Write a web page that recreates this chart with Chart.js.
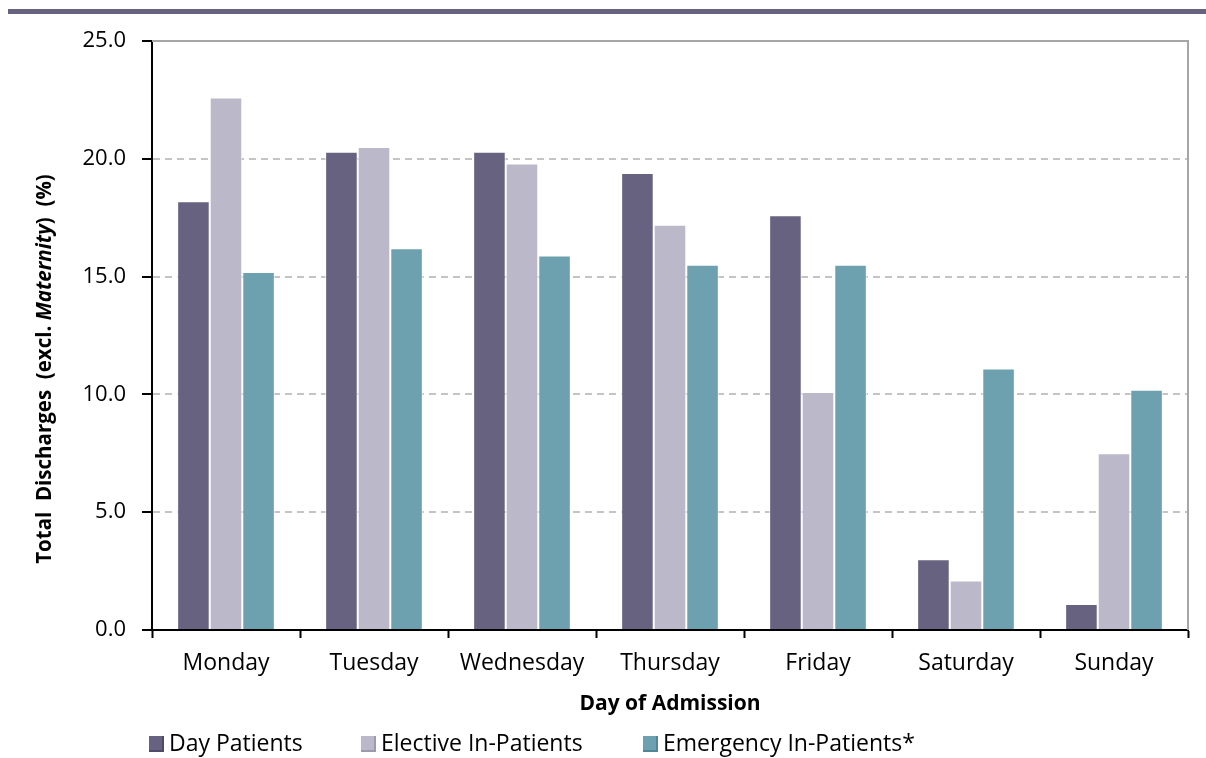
<!DOCTYPE html>
<html>
<head>
<meta charset="utf-8">
<script src="https://cdn.jsdelivr.net/npm/chart.js@4.4.0/dist/chart.umd.min.js"></script>
<style>
  body { margin: 0; background: #fff; }
  #wrap { position: relative; width: 1206px; height: 758px; }
</style>
</head>
<body>
<div id="wrap"><canvas id="myChart" width="1206" height="758"></canvas></div>
<script>
// data
const days = ["Monday", "Tuesday", "Wednesday", "Thursday", "Friday", "Saturday", "Sunday"];
const dayPatients = [18.2, 20.3, 20.3, 19.4, 17.6, 3.0, 1.1];
const electivePatients = [22.6, 20.5, 19.8, 17.2, 10.1, 2.1, 7.5];
const emergencyPatients = [15.2, 16.2, 15.9, 15.5, 15.5, 11.1, 10.2];
const seriesNames = ["Day Patients", "Elective In-Patients", "Emergency In-Patients*"];
const yTicks = [0, 5, 10, 15, 20, 25];

const FONT = "'Open Sans'";
const colors = ["#67627f", "#bbb9c9", "#6ea1b0"];
const edges = ["#4f4a66", "#9c9aae", "#4f8796"];

const extras = {
  id: "extras",
  beforeDatasetsDraw(chart) {
    const ctx = chart.ctx;
    const a = chart.chartArea;
    ctx.save();
    ctx.strokeStyle = "#a6a6a6";
    ctx.lineWidth = 2;
    ctx.beginPath();
    ctx.moveTo(a.left, a.top);
    ctx.lineTo(a.right, a.top);
    ctx.lineTo(a.right, a.bottom);
    ctx.stroke();
    ctx.restore();
  },
  afterDraw(chart) {
    const ctx = chart.ctx;
    ctx.save();
    // top band
    ctx.fillStyle = "#67627f";
    ctx.fillRect(8, 9, 1198, 5);

    // y axis title, with Maternity in italics
    const parts = [
      ["bold", "Total  Discharges  (excl. "],
      ["italic bold", "Maternity"],
      ["bold", ")  (%)"],
    ];
    let total = 0;
    parts.forEach(function (p) {
      ctx.font = p[0] + " 20.5px " + FONT;
      total += ctx.measureText(p[1]).width;
    });
    ctx.translate(45, 369);
    ctx.rotate(-Math.PI / 2);
    ctx.fillStyle = "#000";
    ctx.textBaseline = "middle";
    ctx.textAlign = "left";
    let x = -total / 2;
    parts.forEach(function (p) {
      ctx.font = p[0] + " 20.5px " + FONT;
      ctx.fillText(p[1], x, 0);
      x += ctx.measureText(p[1]).width;
    });
    ctx.restore();

    // legend
    ctx.save();
    const lx = [149, 361, 643];
    ctx.font = "23px " + FONT;
    ctx.textBaseline = "middle";
    chart.data.datasets.forEach(function (ds, i) {
      ctx.fillStyle = edges[i];
      ctx.fillRect(lx[i], 736, 15, 16);
      ctx.fillStyle = colors[i];
      ctx.fillRect(lx[i], 736, 13, 14);
      ctx.fillStyle = "#000";
      ctx.fillText(ds.label, lx[i] + 20, 744);
    });
    ctx.restore();
  },
};

const data = {
  labels: days,
  datasets: [
    { label: seriesNames[0], data: dayPatients, backgroundColor: colors[0] },
    { label: seriesNames[1], data: electivePatients, backgroundColor: colors[1] },
    { label: seriesNames[2], data: emergencyPatients, backgroundColor: colors[2] },
  ],
};
data.datasets.forEach(function (ds) {
  ds.borderColor = "rgba(255,255,255,0.85)";
  ds.borderWidth = 1;
  ds.barPercentage = 1.0;
  ds.categoryPercentage = 0.66;
});

const config = {
  type: "bar",
  data: data,
  options: {
    responsive: false,
    devicePixelRatio: 1,
    animation: false,
    layout: { padding: { top: 41, right: 18, left: 0, bottom: 0 } },
    plugins: {
      legend: { display: false },
      tooltip: { enabled: false },
    },
    scales: {
      x: {
        afterFit: function (scale) { scale.height = 128; },
        grid: {
          offset: true,
          drawOnChartArea: false,
          tickLength: 8,
          tickColor: "#000",
          tickWidth: 2,
        },
        border: { color: "#000", width: 2 },
        ticks: {
          color: "#000",
          font: { family: FONT, size: 23 },
          padding: 12,
          maxRotation: 0,
        },
        title: {
          display: true,
          text: "Day of Admission",
          color: "#000",
          font: { family: FONT, size: 21, weight: "bold" },
          padding: { top: 0, bottom: 41 },
        },
      },
      y: {
        min: 0,
        max: 25,
        afterFit: function (scale) { scale.width = 152; },
        afterBuildTicks: function (scale) {
          scale.ticks = yTicks.map(function (v) { return { value: v }; });
        },
        grid: {
          color: "#c4c4c4",
          lineWidth: 2,
          tickLength: 10,
          tickColor: "#000",
          tickWidth: 2,
          tickBorderDash: [],
        },
        border: { color: "#000", width: 2, dash: [7, 5] },
        ticks: {
          color: "#000",
          font: { family: FONT, size: 22 },
          padding: 16,
          callback: function (v) { return Number(v).toFixed(1); },
        },
      },
    },
  },
  plugins: [extras],
};

new Chart(document.getElementById("myChart"), config);
</script>
</body>
</html>
